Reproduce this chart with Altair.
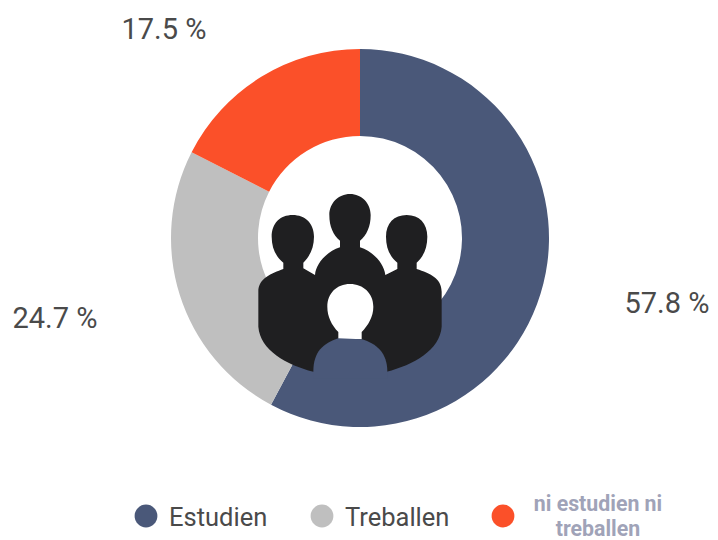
import altair as alt
import pandas as pd
import re

categories = ["Estudien", "Treballen", "ni estudien ni treballen"]
values = [57.8, 24.7, 17.5]
colors = ["#4a5879", "#bfbfbf", "#fb5029"]
value_labels = ["57.8 %", "24.7 %", "17.5 %"]
label_x = [667, 55, 164]
label_y = [304, 319, 30]
legend_x = [146, 322, 503]
legend_text_x = [169, 345]
legend_y = 516
OFF = 8  # page margin

BODIES = ("M130,297 L130,278 C108,260 95,235 95,200 C95,160 120,135 158,135 C195,135 222,160 222,200 "
          "C222,235 208,260 190,278 L190,295 L225,315 C228,280 260,245 300,232 L300,212 C280,195 268,170 268,135 "
          "C268,100 295,72 330,72 C365,72 392,100 392,135 C392,170 380,195 360,212 L360,232 C400,245 432,280 436,315 "
          "L472,297 L472,278 C450,260 438,235 438,200 C438,160 462,135 500,135 C538,135 562,160 562,200 "
          "C562,235 550,260 530,278 L530,297 C570,310 605,325 605,365 L605,470 C600,540 520,585 440,605 "
          "L220,605 C140,585 60,540 55,470 L55,365 C55,325 95,310 130,297 Z")
HEAD = ("M295,508 L295,486 C275,465 262,440 262,410 C262,370 290,342 330,342 C370,342 400,370 400,410 "
        "C400,440 385,465 365,486 L365,508 Z")
FRONT = "M295,505 C250,520 220,545 220,605 L220,625 L442,625 L442,605 C442,550 410,520 365,508 Z"


def norm(path):
    def repl(m):
        return f"{(float(m.group(1))-330)/330:.4f},{(float(m.group(2))-330)/330:.4f}"
    return re.sub(r"(-?\d+(?:\.\d+)?),(-?\d+(?:\.\d+)?)", repl, path)


df = pd.DataFrame({"cat": categories, "value": values, "idx": range(3), "lab": value_labels,
                   "lx": [v - OFF for v in label_x], "ly": [v - OFF for v in label_y]})

color = alt.Color("cat:N", scale=alt.Scale(domain=categories, range=colors), legend=None)

donut = alt.Chart(df).mark_arc(outerRadius=189, innerRadius=102, stroke=None).encode(
    theta=alt.Theta("value:Q", stack=True, scale=alt.Scale(domain=[0, 100], range=[0, 6.28318530718])),
    order=alt.Order("idx:Q"), color=color,
    x=alt.value(360 - OFF), y=alt.value(238 - OFF))

identity_x = alt.X("lx:Q", scale=None, axis=None)
identity_y = alt.Y("ly:Q", scale=None, axis=None)
labels = alt.Chart(df).mark_text(font="Roboto", fontSize=29, color="#4a4a4a").encode(
    x=identity_x, y=identity_y, text="lab:N")


def icon(path, fill):
    return alt.Chart(pd.DataFrame({"a": [0]})).mark_point(
        shape=norm(path), filled=True, fill=fill, opacity=1, size=220 * 220, strokeWidth=0
    ).encode(x=alt.value(350 - OFF), y=alt.value(280 - OFF))


leg = pd.DataFrame({"cat": categories, "lx": [v - OFF for v in legend_x], "ly": [legend_y - OFF] * 3})
dots = alt.Chart(leg).mark_point(shape="circle", filled=True, opacity=1, size=520).encode(
    x=identity_x, y=identity_y, color=color)

leg_txt = pd.DataFrame({"t": categories[:2], "lx": [v - OFF for v in legend_text_x],
                        "ly": [legend_y + 2 - OFF] * 2})
leg_labels = alt.Chart(leg_txt).mark_text(font="Roboto", fontSize=25.5, color="#4a4a4a", align="left").encode(
    x=identity_x, y=identity_y, text="t:N")

wrap = pd.DataFrame({"t": ["ni estudien ni", "treballen"], "lx": [598 - OFF] * 2, "ly": [505 - OFF, 530 - OFF]})
wrap_labels = alt.Chart(wrap).mark_text(font="Roboto", fontSize=21.3, fontWeight="bold", color="#a0a3b8").encode(
    x=identity_x, y=identity_y, text="t:N")

chart = alt.layer(donut, icon(BODIES, "#1f1f21"), icon(HEAD, "#ffffff"), icon(FRONT, colors[0]),
                  labels, dots, leg_labels, wrap_labels).properties(
    width=702, height=532, padding=0, autosize=alt.AutoSizeParams(type="none")
).configure_view(stroke=None)

chart.save("out.html", embed_options={"renderer": "svg", "actions": False})
